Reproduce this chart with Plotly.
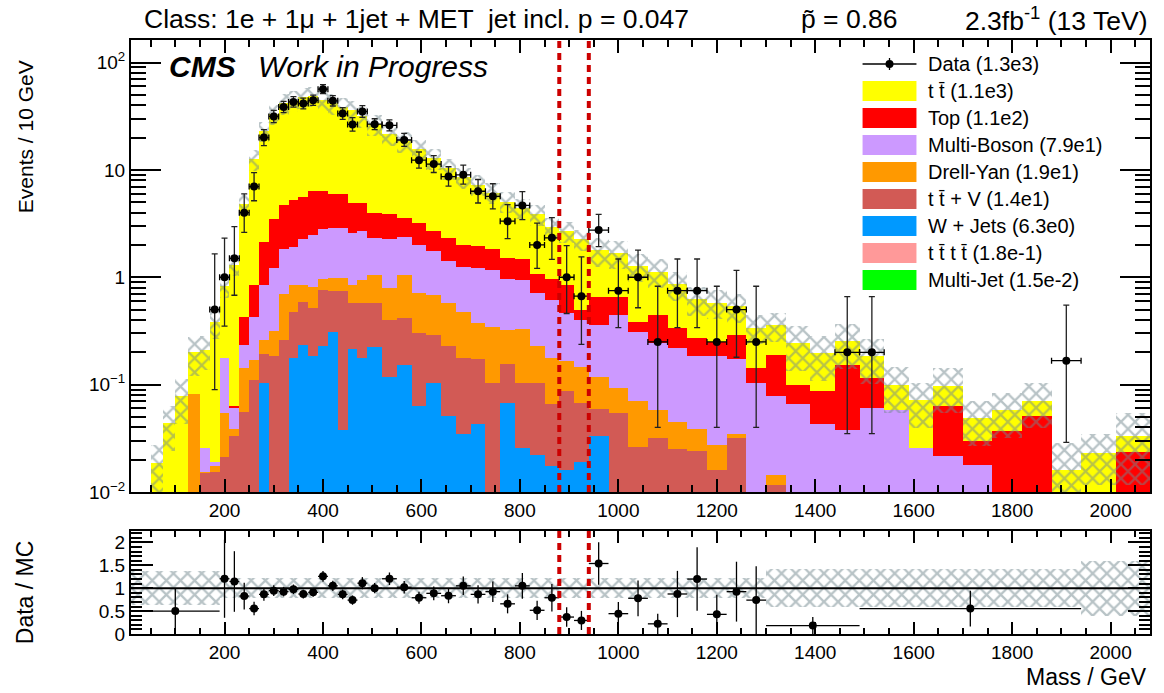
import plotly.graph_objects as go

# ---------------- canvas geometry ----------------
W, H = 1164, 693
ML, MR, MT, MB = 131, 12, 40, 59
PW = W - ML - MR
PH = H - MT - MB


def px_x(px):
    return (px - ML) / PW


def px_y(py):
    return (H - MB - py) / PH


FONT = "Liberation Sans, Arial, sans-serif"

# ---------------- data ----------------
bin_edges = [50, 75, 100, 125, 150, 170, 190, 210, 230, 250, 270, 290, 310, 330, 350, 370, 390,
             410, 430, 450, 470, 490, 520, 550, 580, 610, 640, 670, 700, 730, 760, 790, 820, 850,
             880, 910, 940, 980, 1020, 1060, 1100, 1140, 1180, 1220, 1260, 1300, 1340, 1390, 1440,
             1490, 1540, 1590, 1640, 1700, 1760, 1820, 1880, 1940, 2010, 2080]

# top of each stacked layer (Events / 10 GeV)
level_ttbar = [0.0186, 0.044, 0.078, 0.20, 0.21, 0.38, 0.83, 1.31, 4.8, 12.6, 23.1, 33.3, 41.6, 44.1,
               47.5, 48.9, 44.9, 41.8, 38.7, 35.8, 31.5, 26.7, 21.5, 18.6, 15.6, 12.8, 10.4, 8.55,
               7.3, 6.13, 5.05, 4.44, 3.86, 2.94, 2.7, 2.25, 1.79, 1.69, 1.28, 1.13, 0.86, 0.625,
               0.58, 0.54, 0.34, 0.36, 0.244, 0.197, 0.253, 0.183, 0.10, 0.072, 0.098, 0.049, 0.058,
               0.071, 0.0159, 0.023, 0.033]
level_top = [0, 0, 0, 0.082, 0.0256, 0.019, 0.177, 0.0626, 0.43, 0.84, 2.12, 3.5, 4.72, 5.26, 5.65,
             6.38, 6.3, 6.0, 6.0, 4.9, 4.9, 3.95, 3.87, 3.55, 3.2, 2.7, 2.3, 2.0, 1.94, 1.84, 1.51,
             1.49, 1.07, 0.96, 0.85, 0.50, 0.66, 0.66, 0.38, 0.45, 0.34, 0.27, 0.25, 0.29, 0.143,
             0.187, 0.0998, 0.088, 0.153, 0.115, 0.058, 0.0256, 0.063, 0.0296, 0.037, 0.051, 0, 0,
             0.0234]
level_multiboson = [0, 0, 0, 0.082, 0.0256, 0.019, 0.177, 0.060, 0.235, 0.43, 0.85, 1.23, 1.83, 1.91,
                    2.28, 2.48, 2.8, 2.86, 2.86, 2.58, 2.67, 2.31, 2.28, 2.35, 2.0, 1.77, 1.43, 1.26,
                    1.23, 1.17, 0.97, 0.95, 0.71, 0.62, 0.46, 0.40, 0.36, 0.45, 0.306, 0.243, 0.22,
                    0.185, 0.183, 0.173, 0.103, 0.078, 0.066, 0.043, 0.038, 0.061, 0.058, 0.0256,
                    0.0215, 0.018, 0, 0, 0, 0, 0]
level_drellyan = [0, 0, 0, 0.082, 0.0155, 0.0176, 0.054, 0.039, 0.143, 0.17, 0.261, 0.317, 0.70, 0.84,
                  0.84, 0.81, 0.97, 0.98, 0.98, 0.85, 0.95, 1.05, 0.79, 1.05, 0.71, 0.69, 0.57, 0.48,
                  0.374, 0.343, 0.32, 0.33, 0.23, 0.177, 0.167, 0.145, 0.119, 0.093, 0.070, 0.058,
                  0.045, 0.039, 0.0275, 0.035, 0, 0.0145, 0, 0, 0, 0, 0, 0, 0, 0, 0, 0, 0, 0, 0]
level_ttv = [0, 0, 0, 0, 0.015, 0.0155, 0.021, 0.0334, 0.056, 0.111, 0.192, 0.185, 0.26, 0.48, 0.59,
             0.515, 0.76, 0.74, 0.74, 0.57, 0.57, 0.57, 0.40, 0.416, 0.30, 0.29, 0.23, 0.177, 0.173,
             0.103, 0.156, 0.103, 0.103, 0.066, 0.088, 0.067, 0.059, 0.054, 0.026, 0.032, 0.025,
             0.024, 0.016, 0.032, 0, 0.0117, 0, 0, 0, 0, 0, 0, 0, 0, 0, 0, 0, 0, 0]
level_wjets = [0, 0, 0, 0, 0, 0, 0, 0, 0, 0, 0.103, 0, 0, 0.177, 0.235, 0.183, 0.227, 0.31, 0.038,
               0.214, 0.177, 0.226, 0.119, 0.153, 0.063, 0.103, 0.051, 0.035, 0.043, 0, 0.068,
               0.0256, 0.022, 0.0175, 0.016, 0.0192, 0.033, 0, 0, 0, 0, 0, 0, 0, 0, 0, 0, 0, 0, 0,
               0, 0, 0, 0, 0, 0, 0, 0, 0]
mc_rel_unc = [0.48, 0.45, 0.45, 0.40, 0.35, 0.30] + [0.22] * 30 + [0.30] * 10 + [0.45] * 10 + \
             [0.8, 0.5, 0.65]

data_x = [180, 200, 220, 240, 260, 280, 300, 320, 340, 360, 380, 400, 420, 440, 460, 480, 505, 535,
          565, 595, 625, 655, 685, 715, 745, 775, 805, 835, 865, 895, 925, 960, 1000, 1040, 1080,
          1120, 1160, 1200, 1240, 1280, 1465, 1515, 1910]
data_xerr = [10] * 16 + [15] * 15 + [20] * 9 + [25, 25, 30]
data_y = [0.5, 1.0, 1.5, 4.0, 7.0, 20.0, 31.5, 38.5, 43.0, 41.5, 44.5, 56.5, 44.0, 33.5, 26.5, 35.0,
          26.67, 26.0, 19.0, 12.33, 11.33, 8.67, 9.0, 6.33, 5.67, 3.33, 4.67, 2.0, 2.33, 1.0, 0.667,
          2.75, 0.75, 1.0, 0.25, 0.75, 0.75, 0.25, 0.5, 0.25, 0.2, 0.2, 0.167]
data_err_lo = [0.41, 0.65, 0.82, 1.38, 1.84, 3.13, 3.9, 4.3, 4.55, 4.45, 4.6, 5.2, 4.6, 4.0, 3.55,
               4.1, 2.9, 2.9, 2.45, 1.95, 1.87, 1.6, 1.63, 1.41, 1.34, 1.04, 1.22, 0.79, 0.86, 0.54,
               0.43, 0.82, 0.41, 0.48, 0.21, 0.41, 0.41, 0.21, 0.32, 0.21, 0.165, 0.165, 0.138]
data_err_hi = [1.15, 1.32, 1.46, 1.98, 2.42, 3.68, 4.4, 4.9, 5.15, 5.05, 5.2, 5.8, 5.2, 4.6, 4.15,
               4.7, 3.3, 3.3, 2.85, 2.35, 2.26, 2.03, 2.07, 1.81, 1.76, 1.42, 1.61, 1.19, 1.26, 0.97,
               0.88, 1.1, 0.73, 0.79, 0.575, 0.73, 0.73, 0.575, 0.66, 0.575, 0.46, 0.46, 0.383]

ratio_x = [100, 200, 220, 240, 260, 280, 300, 320, 340, 360, 380, 400, 420, 440, 460, 480, 505, 535,
           565, 595, 625, 655, 685, 715, 745, 775, 805, 835, 865, 895, 925, 960, 1000, 1040, 1080,
           1120, 1160, 1200, 1240, 1280, 1395, 1715]
ratio_xerr = [90] + [10] * 15 + [15] * 15 + [20] * 9 + [95, 225]
ratio_y = [0.5, 1.207, 1.147, 0.829, 0.555, 0.866, 0.947, 0.925, 0.976, 0.873, 0.91, 1.259, 1.052,
           0.866, 0.74, 1.11, 1.0, 1.207, 1.022, 0.792, 0.888, 0.836, 1.052, 0.866, 0.925, 0.659,
           1.052, 0.518, 0.792, 0.37, 0.296, 1.54, 0.444, 0.78, 0.222, 0.874, 1.2, 0.429, 0.925,
           0.74, 0.185, 0.555]
ratio_err = [0.5, 0.853, 0.662, 0.293, 0.148, 0.137, 0.119, 0.105, 0.105, 0.096, 0.096, 0.118,
             0.112, 0.106, 0.102, 0.133, 0.112, 0.137, 0.135, 0.130, 0.152, 0.164, 0.202, 0.199,
             0.224, 0.208, 0.281, 0.211, 0.299, 0.214, 0.209, 0.464, 0.256, 0.39, 0.222, 0.505,
             0.693, 0.429, 0.654, 0.74, 0.185, 0.392]
ratio_band_edges = [10, 190, 1300, 1940, 2080]
ratio_band_unc = [0.37, 0.22, 0.42, 0.60]

legend_labels = ["Data (1.3e3)", "t t\u0304 (1.1e3)", "Top (1.1e2)", "Multi-Boson (7.9e1)",
                 "Drell-Yan (1.9e1)", "t t\u0304 + V (1.4e1)", "W + Jets (6.3e0)",
                 "t t\u0304 t t\u0304 (1.8e-1)", "Multi-Jet (1.5e-2)"]
mass_window = [880, 940]

# ---------------- styles ----------------
C_TT, C_TOP, C_MB, C_DY = "#ffff00", "#ff0000", "#cc99ff", "#ff9900"
C_TTV, C_WJ, C_TTTT, C_MJ = "#d25a55", "#0099ff", "#ff9999", "#00ff00"
C_HATCH = "#72888e"
C_WIN = "#cc0000"
HATCH = dict(shape="x", fgcolor=C_HATCH, bgcolor="rgba(0,0,0,0)", size=10, solidity=0.4)

centers = [(a + b) / 2 for a, b in zip(bin_edges[:-1], bin_edges[1:])]
widths = [b - a for a, b in zip(bin_edges[:-1], bin_edges[1:])]


def nz(vals):
    return [v if v > 0 else None for v in vals]


fig = go.Figure()

for lev, col in [(level_ttbar, C_TT), (level_top, C_TOP), (level_multiboson, C_MB),
                 (level_drellyan, C_DY), (level_ttv, C_TTV), (level_wjets, C_WJ)]:
    fig.add_trace(go.Bar(x=centers, y=nz(lev), width=widths, marker=dict(color=col, line_width=0),
                         xaxis="x", yaxis="y", hoverinfo="skip"))

# MC uncertainty hatch
hatch_base = [t * (1 - u) for t, u in zip(level_ttbar, mc_rel_unc)]
hatch_h = [2 * t * u for t, u in zip(level_ttbar, mc_rel_unc)]
fig.add_trace(go.Bar(x=centers, y=hatch_h, base=hatch_base, width=widths,
                     marker=dict(color="rgba(0,0,0,0)", line_width=0, pattern=HATCH),
                     xaxis="x", yaxis="y", hoverinfo="skip"))

fig.add_trace(go.Scatter(x=data_x, y=data_y, mode="markers",
                         marker=dict(color="black", size=8),
                         error_x=dict(type="data", array=data_xerr, color="black", thickness=1.3, width=3),
                         error_y=dict(type="data", array=data_err_hi, arrayminus=data_err_lo,
                                      symmetric=False, color="#222222", thickness=1.3, width=3),
                         xaxis="x", yaxis="y", hoverinfo="skip"))

# ratio band
rb_c = [(a + b) / 2 for a, b in zip(ratio_band_edges[:-1], ratio_band_edges[1:])]
rb_w = [b - a for a, b in zip(ratio_band_edges[:-1], ratio_band_edges[1:])]
fig.add_trace(go.Bar(x=rb_c, y=[2 * u for u in ratio_band_unc], base=[1 - u for u in ratio_band_unc],
                     width=rb_w,
                     marker=dict(color="rgba(0,0,0,0)", line_width=0, pattern=HATCH),
                     xaxis="x2", yaxis="y2", hoverinfo="skip"))
fig.add_trace(go.Scatter(x=ratio_x, y=ratio_y, mode="markers",
                         marker=dict(color="black", size=8),
                         error_x=dict(type="data", array=ratio_xerr, color="black", thickness=1.3, width=0),
                         error_y=dict(type="data", array=ratio_err, color="black", thickness=1.3, width=0),
                         xaxis="x2", yaxis="y2", hoverinfo="skip"))

shapes = []
# ratio unity line
shapes.append(dict(type="line", xref="x2", yref="y2", x0=10, x1=2080, y0=1, y1=1,
                   line=dict(color="black", width=2)))
for xv in mass_window:
    for yr in ["y domain", "y2 domain"]:
        shapes.append(dict(type="line", xref="x", yref=yr, x0=xv, x1=xv, y0=0, y1=1, layer="above",
                           line=dict(color=C_WIN, width=4, dash="7px,5px")))

# legend (drawn by hand, ROOT style)
leg_rows = [64 + 27 * i for i in range(9)]
sw_x0, sw_x1 = 864, 918
shapes.append(dict(type="line", xref="paper", yref="paper", x0=px_x(sw_x0), x1=px_x(sw_x1),
                   y0=px_y(leg_rows[0]), y1=px_y(leg_rows[0]), line=dict(color="black", width=1.3)))
shapes.append(dict(type="line", xref="paper", yref="paper", x0=px_x(891), x1=px_x(891),
                   y0=px_y(leg_rows[0] - 6), y1=px_y(leg_rows[0] + 6), line=dict(color="black", width=1.3)))
shapes.append(dict(type="circle", xref="paper", yref="paper", x0=px_x(887), x1=px_x(895),
                   y0=px_y(leg_rows[0] - 4), y1=px_y(leg_rows[0] + 4), fillcolor="black",
                   line=dict(color="black", width=0)))
for row, col in zip(leg_rows[1:], [C_TT, C_TOP, C_MB, C_DY, C_TTV, C_WJ, C_TTTT, C_MJ]):
    shapes.append(dict(type="rect", xref="paper", yref="paper", x0=px_x(sw_x0), x1=px_x(sw_x1),
                       y0=px_y(row + 10), y1=px_y(row - 10), fillcolor=col, line=dict(width=0)))

annotations = []
for row, lab in zip(leg_rows, legend_labels):
    annotations.append(dict(text=lab, xref="paper", yref="paper", x=px_x(928), y=px_y(row),
                            xanchor="left", yanchor="middle", showarrow=False,
                            font=dict(family=FONT, size=20, color="black")))


def txt(text, x, y, size, xanchor="left", angle=0):
    annotations.append(dict(text=text, xref="paper", yref="paper", x=px_x(x), y=px_y(y),
                            xanchor=xanchor, yanchor="middle", showarrow=False, textangle=angle,
                            font=dict(family=FONT, size=size, color="black")))


txt("Class: 1e + 1\u03bc + 1jet + MET \u00a0jet incl. p = 0.047", 142, 19, 26.5)
txt("p\u0303 = 0.86", 800, 19, 26.5)
txt("2.3fb<sup>-1</sup> (13 TeV)", 1151, 19, 26.5, xanchor="right")
txt("<b><i>CMS</i></b>", 167, 67, 30)
txt("<i>Work in Progress</i>", 256, 67, 30)
txt("Events / 10 GeV", 25, 137, 21, xanchor="center", angle=-90)
txt("Data / MC", 25, 592, 23, xanchor="center", angle=-90)
txt("Mass / GeV", 1151, 677, 23, xanchor="right")

y_minor = [m * 10 ** k for k in range(-2, 2) for m in range(2, 10)]

axis_common = dict(showline=True, linecolor="black", linewidth=2, mirror="ticks", ticks="inside",
                   tickcolor="black", showgrid=False, zeroline=False,
                   tickfont=dict(family=FONT, size=19, color="black"))

fig.update_layout(
    width=W, height=H, margin=dict(l=ML, r=MR, t=MT, b=MB),
    paper_bgcolor="white", plot_bgcolor="white", showlegend=False, barmode="overlay",
    bargap=0,
    xaxis=dict(domain=[0, 1], range=[10, 2080], anchor="y", tickmode="array",
               tickvals=list(range(200, 2001, 200)), ticklen=13, tickwidth=1.5,
               minor=dict(dtick=50, tick0=0, ticklen=7, ticks="inside", tickcolor="black", tickwidth=1.5),
               **axis_common),
    yaxis=dict(domain=[px_y(492), 1], type="log", range=[-2, 2.21], anchor="x", tickmode="array",
               tickvals=[0.01, 0.1, 1, 10, 100],
               ticktext=["10<sup>\u22122</sup>", "10<sup>\u22121</sup>", "1", "10", "10<sup>2</sup>"],
               ticklen=30, tickwidth=1.5,
               minor=dict(tickvals=y_minor, ticklen=15, ticks="inside", tickcolor="black", tickwidth=1.5),
               **axis_common),
    xaxis2=dict(domain=[0, 1], range=[10, 2080], anchor="y2", matches="x", tickmode="array",
                tickvals=list(range(200, 2001, 200)), ticklen=12, tickwidth=1.5,
                minor=dict(dtick=50, tick0=0, ticklen=6, ticks="inside", tickcolor="black", tickwidth=1.5),
                **axis_common),
    yaxis2=dict(domain=[0, px_y(531)], range=[0, 2.25], anchor="x2", tickmode="array",
                tickvals=[0, 0.5, 1, 1.5, 2], ticktext=["0", "0.5", "1", "1.5", "2"],
                ticklen=22, tickwidth=1.5,
                minor=dict(dtick=0.1, tick0=0, ticklen=11, ticks="inside", tickcolor="black", tickwidth=1.5),
                **axis_common),
    shapes=shapes, annotations=annotations,
)

fig.write_html("out.html")
